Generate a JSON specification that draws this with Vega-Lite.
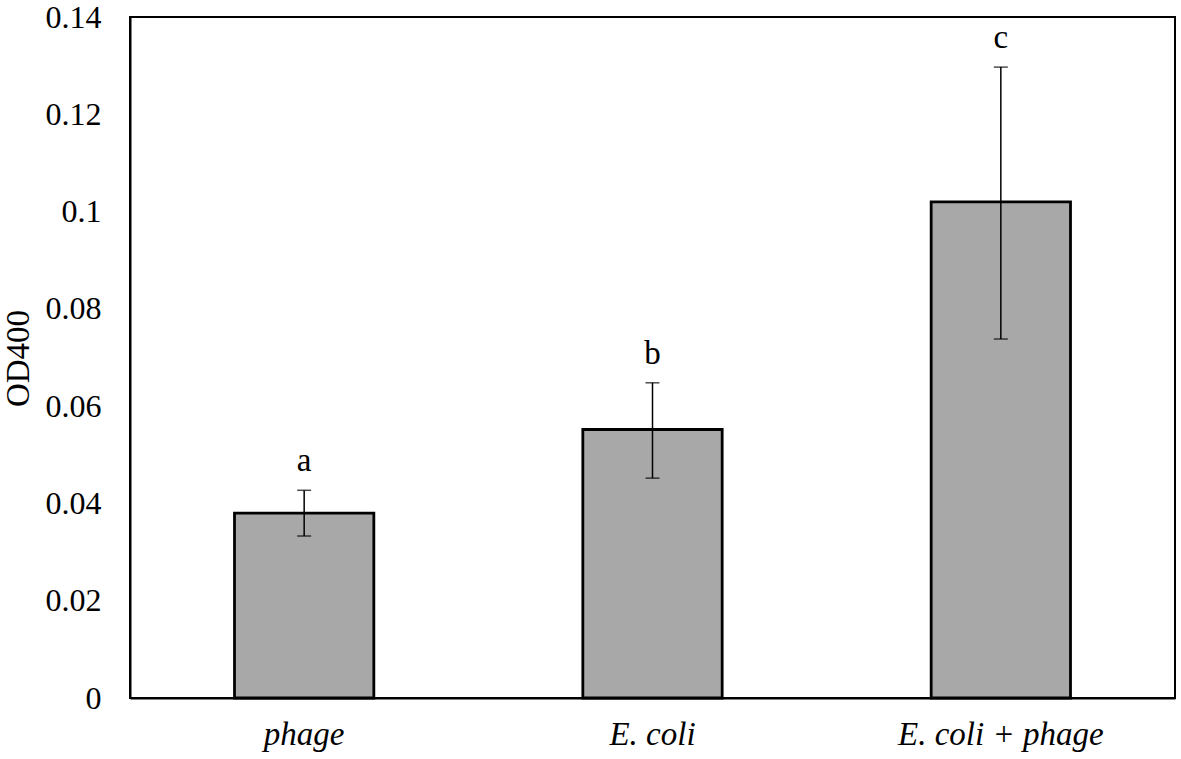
{
  "$schema": "https://vega.github.io/schema/vega-lite/v6.json",
  "autosize": "none",
  "width": 1045,
  "height": 681,
  "padding": {"left": 130, "top": 17, "right": 6, "bottom": 61},
  "background": "white",
  "config": {
    "view": {"stroke": "black", "strokeWidth": 2},
    "font": "Liberation Serif"
  },
  "data": {
    "values": [
      {"group": "phage", "mean": 0.038, "lo": 0.0333, "hi": 0.0427, "letter": "a"},
      {"group": "E. coli", "mean": 0.0552, "lo": 0.0452, "hi": 0.0648, "letter": "b"},
      {"group": "E. coli + phage", "mean": 0.102, "lo": 0.0738, "hi": 0.1297, "letter": "c"}
    ]
  },
  "encoding": {
    "x": {
      "field": "group",
      "type": "nominal",
      "sort": null,
      "scale": {"paddingInner": 0.6, "paddingOuter": 0.3},
      "axis": {
        "title": null,
        "labelAngle": 0,
        "labelFont": "Liberation Serif",
        "labelFontStyle": "italic",
        "labelFontSize": 33,
        "labelColor": "black",
        "labelPadding": 20,
        "labelLimit": 0,
        "ticks": false,
        "domainColor": "black",
        "domainWidth": 2
      }
    }
  },
  "layer": [
    {
      "mark": {"type": "bar", "fill": "#a8a8a8", "stroke": "black", "strokeWidth": 2.8},
      "encoding": {
        "y": {
          "field": "mean",
          "type": "quantitative",
          "scale": {"domain": [0, 0.14], "nice": false},
          "axis": {
            "title": "OD400",
            "titleFont": "Liberation Serif",
            "titleFontWeight": "normal",
            "titleFontSize": 33,
            "titleColor": "black",
            "titleX": -102,
            "titleY": 341,
            "titleAlign": "center",
            "titleBaseline": "alphabetic",
            "titleAngle": -90,
            "values": [0, 0.02, 0.04, 0.06, 0.08, 0.1, 0.12, 0.14],
            "format": "~g",
            "grid": false,
            "ticks": false,
            "labelFont": "Liberation Serif",
            "labelFontSize": 32,
            "labelColor": "black",
            "labelPadding": 29,
            "domainColor": "black",
            "domainWidth": 2
          }
        }
      }
    },
    {
      "mark": {"type": "rule", "color": "black", "strokeWidth": 1.5},
      "encoding": {
        "y": {"field": "lo", "type": "quantitative"},
        "y2": {"field": "hi"}
      }
    },
    {
      "mark": {"type": "tick", "color": "black", "size": 14, "thickness": 1.5},
      "encoding": {"y": {"field": "lo", "type": "quantitative"}}
    },
    {
      "mark": {"type": "tick", "color": "black", "size": 14, "thickness": 1.5},
      "encoding": {"y": {"field": "hi", "type": "quantitative"}}
    },
    {
      "mark": {"type": "text", "baseline": "alphabetic", "dy": -19, "fontSize": 33, "font": "Liberation Serif", "color": "black"},
      "encoding": {
        "y": {"field": "hi", "type": "quantitative"},
        "text": {"field": "letter"}
      }
    }
  ]
}
